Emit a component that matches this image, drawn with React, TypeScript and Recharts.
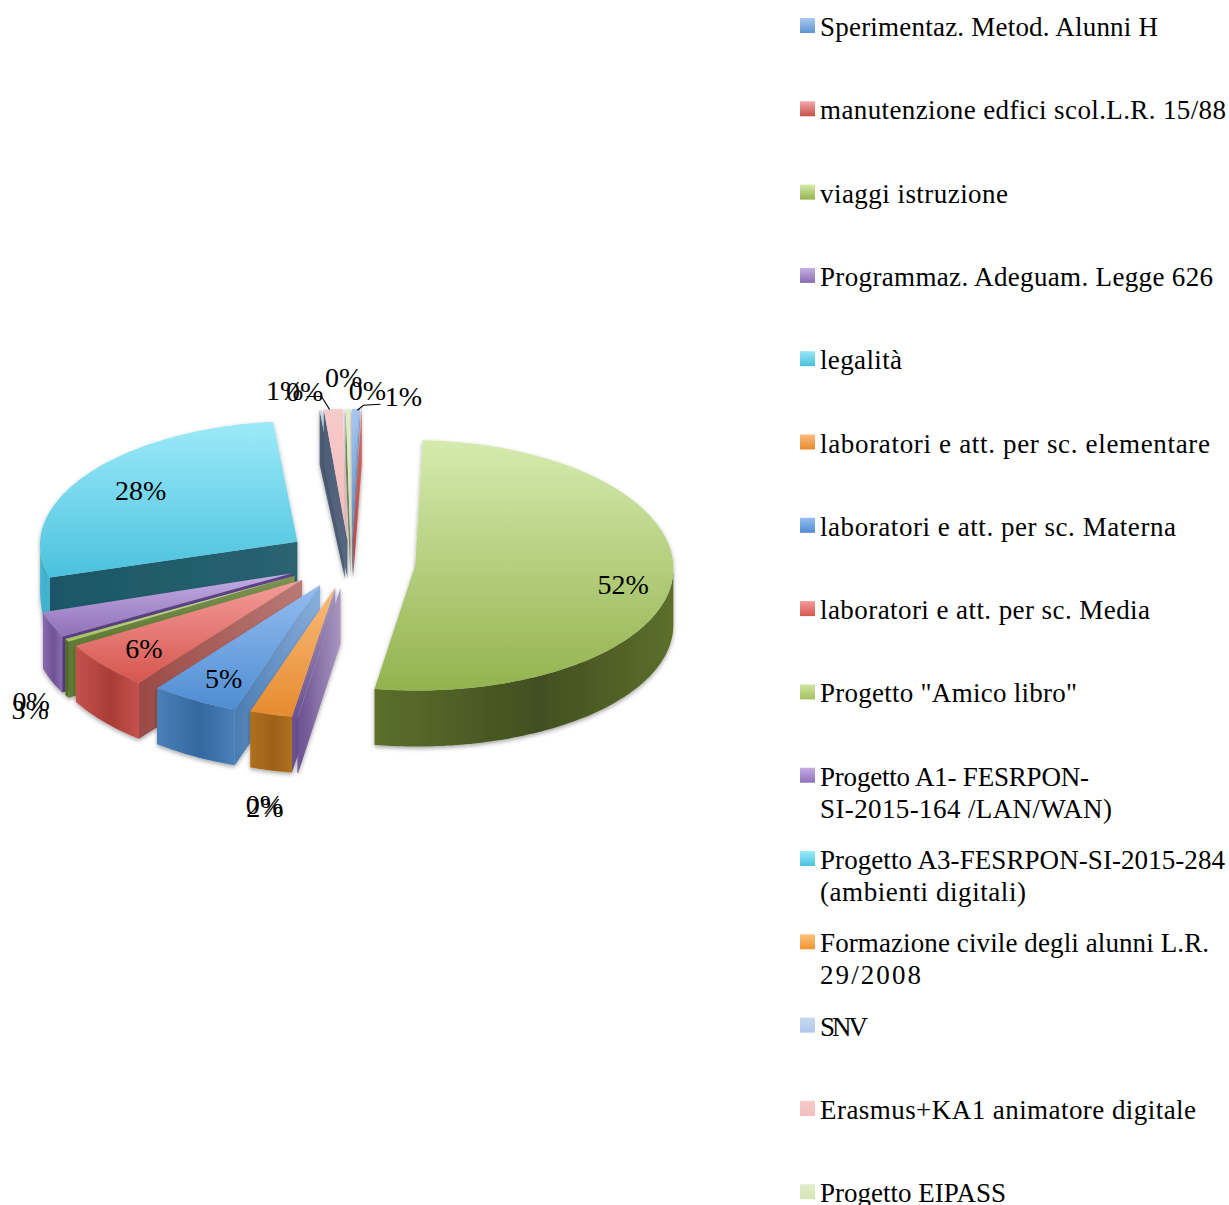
import React from "react";
import { PieChart, Pie, Legend } from "recharts";

const categories = [
  "Sperimentaz. Metod. Alunni H",
  "manutenzione edfici scol.L.R. 15/88",
  "viaggi istruzione",
  "Programmaz. Adeguam. Legge 626",
  "legalità",
  "laboratori e att. per sc. elementare",
  "laboratori e att. per sc. Materna",
  "laboratori e att. per sc. Media",
  'Progetto "Amico libro"',
  "Progetto A1- FESRPON-\nSI-2015-164 /LAN/WAN)",
  "Progetto A3-FESRPON-SI-2015-284\n(ambienti digitali)",
  "Formazione civile degli alunni L.R.\n29/2008",
  "SNV",
  "Erasmus+KA1 animatore digitale",
  "Progetto EIPASS",
];
const values = [0.5, 0.05, 52, 0.05, 0, 2.6, 5.4, 6, 0.4, 3.2, 28.2, 0, 0.1, 1.2, 0.3];
const labelTexts = ["1%", "0%", "52%", "0%", "", "2%", "5%", "6%", "0%", "3%", "28%", "", "0%", "1%", "0%"];

// legend line widths as measured on the reference, per line of each entry
const legendLineWidths = [[338], [406], [188], [393], [82], [390], [356], [330], [257], [269, 292], [405, 206], [389, 101], [48], [376], [186]];

const topLight = ["#a9c8f0", "#f2a9a7", "#d5ebae", "#c4b0e2", "#96e6f6", "#f9bb7d", "#94bdf1", "#f49d9b", "#cfe5a4", "#c5aee4", "#9deaf9", "#fdc080", "#c9daf3", "#f6cbca", "#e2eeca"];
const topDark = ["#5f94d0", "#c8504c", "#93b34e", "#8a6cb0", "#4ac0dc", "#e78b2d", "#4e8dd2", "#d6564f", "#a4c25e", "#8f70b8", "#4bc2de", "#f0962e", "#afc7ec", "#f2bcbb", "#d3e4b4"];
const wallA = ["#4a80b8", "#b8423e", "#5c6f2c", "#6e5494", "#3aa6c0", "#b0701f", "#4a80b8", "#c5524c", "#5f7a2f", "#8a6bb0", "#46b8d2", "#c97c25", "#8ea6c8", "#d8a5a4", "#b4c49a"];
const wallB = ["#3a6ea4", "#a23834", "#424f20", "#5e4684", "#2f93ab", "#9c6118", "#33689f", "#a93c36", "#4c6426", "#6f5393", "#3fb0ca", "#b06c1e", "#7e96b8", "#c89594", "#a4b48a"];
const cutA = ["#6f8fb8", "#b94a46", "#5d7230", "#6a5090", "#2a7f93", "#6a5090", "#4a7cb0", "#9c4a46", "#5f7a35", "#5a3f82", "#1b5766", "#a9712c", "#4f6078", "#4d5e78", "#6a7d55"];
const cutB = ["#7fa3d0", "#c66a66", "#6a7f3a", "#a898c0", "#3a8fa3", "#a898c0", "#8aaedc", "#b87a76", "#7b9350", "#5e4488", "#2a6372", "#c08a4a", "#566880", "#586880", "#7a8d65"];

const paintOrder = [10, 12, 13, 14, 0, 1, 2, 9, 8, 7, 6, 5, 3];

// label placement, expressed as a nudge from the computed anchor
const labelNudges: Record<number, [number, number]> = {
  0: [47, 3],
  1: [5, -3],
  2: [2, 9],
  3: [-28, 72],
  5: [2, 78],
  6: [4, 1],
  7: [0, 0],
  8: [-8, 53],
  9: [8, 79],
  10: [13, 2],
  12: [-13, -3],
  13: [-47, -3],
  14: [-4, -16],
};
const outsideRows = [0, 1, 14, 13, 12, 8, 9, 5, 3];

// wedges sit a little higher and flatter in the reference's perspective
const rowLift: Record<number, number> = { 2: -1, 10: -9 };
const rowFlatten: Record<number, number> = { 2: 0.955, 10: 0.92 };

const rows = categories.map((name, i) => ({ name, value: values[i] }));

const FONT = "'Liberation Serif', serif";
const EXPLODE = 0.25;
const PERSPECTIVE = 0.02;
const APEX_Y = 0.372;
const RIM_Y = 0.508;

type Pt = [number, number];
const rad = (d: number) => (d * Math.PI) / 180;
const depthAt = (Y: number) => {
  if (Y >= 0.1) return 56;
  if (Y >= -0.25) return 56 + ((Y - 0.1) * 18) / 0.35;
  return 38 + (-0.25 - Y) * 17;
};

function point(cx: number, cy: number, r: number, i: number, ax: number, ay: number, u: number, v: number, drop = false): Pt {
  const X = ax + u;
  const Y = ay + v;
  const flat = rowFlatten[i] ?? 1;
  const y = cy + (rowLift[i] ?? 0) + r * APEX_Y * ay + r * RIM_Y * flat * v;
  return [cx + r * X * (1 + PERSPECTIVE * Y), y + (drop ? depthAt(Y) : 0)];
}
const toPath = (pts: Pt[]) =>
  "M" + pts.map((q) => `${q[0].toFixed(1)},${q[1].toFixed(1)}`).join("L") + "Z";

function makeShape(only: number) {
  return function SectorShape(props: any) {
    const { cx, cy, outerRadius: r, startAngle, endAngle, name } = props;
    const i = categories.indexOf(name);
    if (i !== only) return null;
    const t0 = 90 - startAngle;
    const t1 = 90 - endAngle;
    if (t1 - t0 <= 0) return null;
    const mid = rad((t0 + t1) / 2);
    const ax = EXPLODE * Math.sin(mid);
    const ay = -EXPLODE * Math.cos(mid);
    const P = (t: number | null, drop = false) =>
      t === null
        ? point(cx, cy, r, i, ax, ay, 0, 0, drop)
        : point(cx, cy, r, i, ax, ay, Math.sin(rad(t)), -Math.cos(rad(t)), drop);
    const samples: number[] = [];
    const n = Math.max(2, Math.ceil(t1 - t0));
    for (let k = 0; k <= n; k++) samples.push(t0 + ((t1 - t0) * k) / n);
    const top: Pt[] = [P(null), ...samples.map((t) => P(t))];
    const face = (t: number) => toPath([P(null), P(t), P(t, true), P(null, true)]);
    const wa = Math.max(t0, 90);
    const wb = Math.min(t1, 270);
    let wall: string | null = null;
    if (wb > wa) {
      const list = [wa, ...samples.filter((t) => t >= wa && t <= wb), wb];
      wall = toPath([...list.map((t) => P(t)), ...list.slice().reverse().map((t) => P(t, true))]);
    }
    return (
      <g filter="url(#softShadow)">
        {wall && <path d={wall} fill={`url(#wall${i})`} />}
        {t0 > 180 && t0 < 360 && <path d={face(t0)} fill={`url(#cut${i})`} />}
        {t1 > 0 && t1 < 180 && <path d={face(t1)} fill={`url(#cut${i})`} />}
        <path d={toPath(top)} fill={`url(#top${i})`} />
      </g>
    );
  };
}

function renderLabel(p: any) {
  const i: number = p.index;
  const text = labelTexts[i];
  if (!text) return null;
  const mid = rad(90 - p.midAngle);
  const s = Math.sin(mid);
  const c = Math.cos(mid);
  const nudge = labelNudges[i] ?? [0, 0];
  const reach = outsideRows.includes(i) ? 1.12 : 0.8;
  const [x0, y0] = point(p.cx, p.cy, p.outerRadius, i, EXPLODE * s, -EXPLODE * c, reach * s, -reach * c);
  const x = x0 + nudge[0];
  const y = y0 + nudge[1];
  return (
    <g>
      {i === 13 && (
        <polyline points={`${x + 22},${y + 6} ${x + 37},${y + 6} ${x + 45},${y + 19}`} fill="none" stroke="#000" strokeWidth={1.2} />
      )}
      {i === 0 && (
        <polyline points={`${x - 23},${y + 8} ${x - 40},${y + 9} ${x - 46},${y + 14}`} fill="none" stroke="#000" strokeWidth={1.2} />
      )}
      <text x={x} y={y} textAnchor="middle" dominantBaseline="central" fontFamily={FONT} fontSize={28} fill="#000">
        {text}
      </text>
    </g>
  );
}

function LegendList() {
  return (
    <svg width={429} height={1205} style={{ display: "block" }}>
      <defs>
        {categories.map((_, i) => (
          <linearGradient key={i} id={`swatch${i}`} x1="0" y1="0" x2="0" y2="1">
            <stop offset="0" stopColor={topLight[i]} />
            <stop offset="1" stopColor={topDark[i]} />
          </linearGradient>
        ))}
      </defs>
      {categories.map((name, i) => {
        const y = 36 + i * 83.3;
        return (
          <g key={name}>
            <rect x={0} y={y - 18} width={15} height={15} fill={`url(#swatch${i})`} />
            {name.split("\n").map((line, k) => (
              <text
                key={k}
                x={20}
                y={y + k * 32}
                fontFamily={FONT}
                fontSize={27}
                fill="#000"
                textLength={legendLineWidths[i][k]}
                lengthAdjust="spacing"
              >
                {line}
              </text>
            ))}
          </g>
        );
      })}
    </svg>
  );
}

const PIE_PROPS = {
  data: rows,
  dataKey: "value",
  nameKey: "name",
  cx: 351,
  cy: 564,
  outerRadius: 258,
  startAngle: 90,
  endAngle: -270,
  stroke: "none",
  isAnimationActive: false,
  legendType: "none" as const,
};

export default function App() {
  return (
    <div style={{ position: "absolute", left: 0, top: 0, width: 1229, height: 1205, overflow: "hidden", background: "#fff" }}>
      <PieChart width={1229} height={1205} margin={{ top: 0, right: 0, bottom: 0, left: 0 }}>
        <defs>
          <filter id="softShadow" x="-20%" y="-20%" width="140%" height="140%">
            <feDropShadow dx={0} dy={2} stdDeviation={2} floodColor="#000" floodOpacity={0.35} />
          </filter>
          {categories.map((_, i) => (
            <React.Fragment key={i}>
              <linearGradient id={`top${i}`} x1="0" y1="0" x2="0" y2="1">
                <stop offset="0" stopColor={topLight[i]} />
                <stop offset="1" stopColor={topDark[i]} />
              </linearGradient>
              <linearGradient id={`wall${i}`} x1="0" y1="0" x2="1" y2="0">
                <stop offset="0" stopColor={wallA[i]} />
                <stop offset="0.55" stopColor={wallB[i]} />
                <stop offset="1" stopColor={wallA[i]} />
              </linearGradient>
              <linearGradient id={`cut${i}`} x1="0" y1="0" x2="1" y2="0">
                <stop offset="0" stopColor={cutA[i]} />
                <stop offset="1" stopColor={cutB[i]} />
              </linearGradient>
            </React.Fragment>
          ))}
        </defs>
        {paintOrder.map((idx) => (
          <Pie key={idx} {...PIE_PROPS} shape={makeShape(idx)} />
        ))}
        <Pie {...PIE_PROPS} shape={() => null} label={renderLabel} labelLine={false} />
        <Legend
          layout="vertical"
          align="right"
          verticalAlign="middle"
          content={() => <LegendList />}
          wrapperStyle={{ position: "absolute", left: 800, top: 0, right: "auto", bottom: "auto", width: 429, height: 1205 }}
        />
      </PieChart>
    </div>
  );
}
